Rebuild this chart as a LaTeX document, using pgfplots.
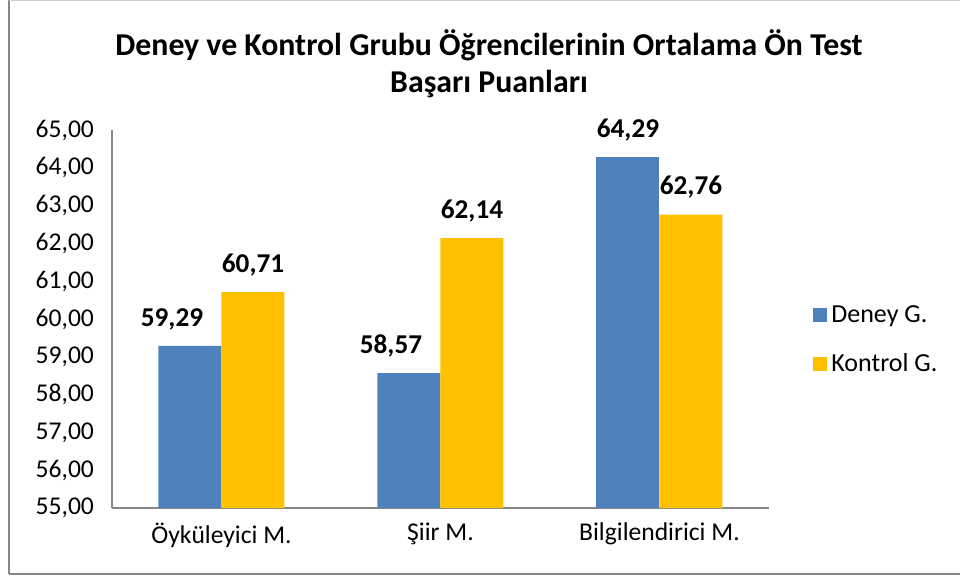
\documentclass[border=0pt]{standalone}
\usepackage{pgfplots}
\pgfplotsset{compat=1.18}
\usepackage{fontspec}
\setmainfont{Carlito}
\definecolor{bblue}{HTML}{4F81BD}
\definecolor{byellow}{HTML}{FFC000}
\definecolor{axgray}{HTML}{868686}
\begin{document}
\begin{tikzpicture}
\useasboundingbox (-56pt,-35.5pt) rectangle (424pt,254pt);
\begin{axis}[
  scale only axis,
  width=328.5pt, height=189pt,
  ybar, bar width=31.5pt,
  xmin=-0.5, xmax=2.5, ymin=55, ymax=65,
  xtick={0,1,2},
  xticklabels={Öyküleyici M.,Şiir M.,Bilgilendirici M.},
  ytick={55,56,57,58,59,60,61,62,63,64,65},
  axis x line*=bottom, axis y line*=left,
  axis line style={axgray, line width=0.8pt},
  major tick length=0pt,
  tick label style={font=\fontsize{12.8}{15}\selectfont},
  /pgf/number format/assume math mode=true,
  yticklabel={\pgfmathprintnumber[fixed,fixed zerofill,precision=2,use comma]{\tick}},
  yticklabel style={xshift=-5.5pt},
  xticklabel style={yshift=-4pt},
  nodes near coords={\pgfmathprintnumber[fixed,fixed zerofill,precision=2,use comma,assume math mode=true]{\pgfplotspointmeta}},
  nodes near coords style={font=\bfseries\fontsize{13.6}{15}\selectfont, anchor=south, yshift=4.5pt, black},
  legend style={at={(1,0.445)}, anchor=west, xshift=19pt, draw=none, fill=none,
    font=\fontsize{13}{15}\selectfont, row sep=10pt},
  legend cell align=left,
  legend image code/.code={\fill[#1] (0pt,-3.5pt) rectangle (7pt,3.5pt);},
]
\addplot[fill=bblue, draw=none, bar shift=-15.75pt,
  nodes near coords style={xshift=-9pt}] coordinates {(0,59.29) (1,58.57)};
\addplot[fill=bblue, draw=none, bar shift=-15.75pt, forget plot] coordinates {(2,64.29)};
\addplot[fill=byellow, draw=none, bar shift=15.75pt] coordinates {(0,60.71) (1,62.14) (2,62.76)};
\legend{Deney G., Kontrol G.}
\end{axis}
\node[align=center, font=\bfseries\fontsize{15.9}{18.5}\selectfont] at (188.5pt,222pt)
  {Deney ve Kontrol Grubu Öğrencilerinin Ortalama Ön Test\\Başarı Puanları};
\draw[axgray, line width=0.8pt] (-51.5pt,-33pt) -- (-51.5pt,253.8pt);
\draw[axgray!40, line width=0.8pt] (-51.5pt,253.8pt) -- (430pt,253.8pt);
\draw[axgray, line width=0.8pt] (-51.5pt,-33pt) -- (430pt,-33pt);
\end{tikzpicture}
\end{document}
